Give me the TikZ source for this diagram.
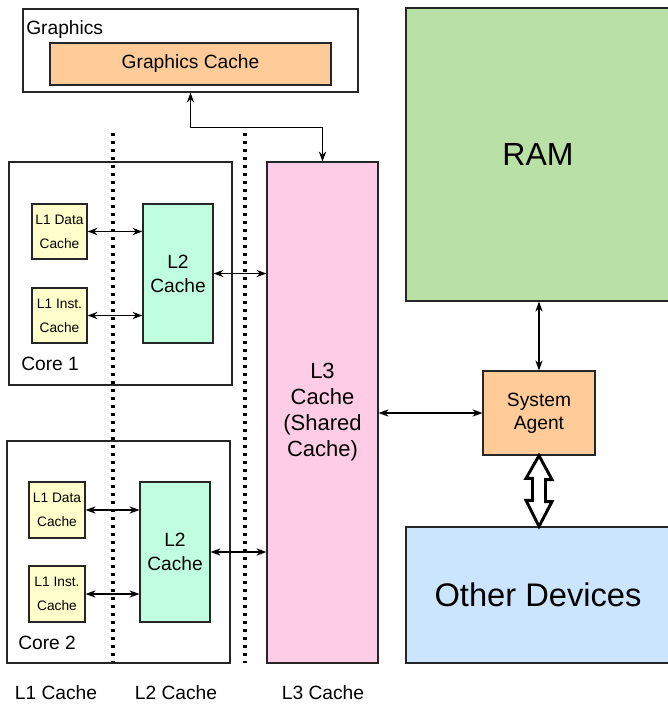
\documentclass[tikz,border=0pt]{standalone}
\usepackage{fontspec}
\setmainfont{Liberation Sans}
\usepackage{tikz}
\usetikzlibrary{arrows,arrows.meta,shapes,positioning}
\usepackage{color}
\definecolor{gfxorange}{HTML}{FFCC99}
\definecolor{l1yellow}{HTML}{FFFFCC}
\definecolor{l2mint}{HTML}{BFFFE0}
\definecolor{l3pink}{HTML}{FFCCE6}
\definecolor{ramgreen}{HTML}{B9E0A5}
\definecolor{devblue}{HTML}{CCE5FF}

\tikzset{
  box/.style={draw=black!85, line width=0.9pt, inner sep=0pt, align=center, font=\fontsize{14.4}{18}\selectfont},
  wh/.style 2 args={minimum width=#1*0.75pt, minimum height=#2*0.75pt},
  l1box/.style={box, fill=l1yellow, wh={55}{55}, font=\fontsize{10.3}{18}\selectfont},
  l2box/.style={box, fill=l2mint, wh={70}{139}},
  lbl/.style={inner sep=0pt, font=\fontsize{14.4}{18}\selectfont},
  conn/.style={{Stealth[length=7.5pt,width=5.5pt,inset=2.6pt]}-{Stealth[length=7.5pt,width=5.5pt,inset=2.6pt]}, line width=0.8pt},
  dotline/.style={line width=2.3pt, dash pattern=on 2.3pt off 3.7pt},
  bigarrow/.style={line width=2.2pt, fill=white, line join=miter}
}

\begin{document}
\begin{tikzpicture}[x=0.75pt, y=-0.75pt]
\useasboundingbox (0,0) rectangle (668,704);

\node[box, fill=white, wh={335}{83}] (gfx) at (190.5,50.5) {};
\node[box, fill=gfxorange, wh={281}{42}] (gcache) at (190.5,64) {Graphics Cache};
\node[lbl, anchor=west] (gfxlabel) at (26,30) {Graphics};

\draw[dotline] (113,133) -- (113,663);
\draw[dotline] (245,133) -- (245,663);

\node[box, wh={223}{223}] (core1) at (120.5,273.5) {};
\node[l1box] (d1) at (59.5,231.5) {L1 Data\\Cache};
\node[l1box] (i1) at (59.5,315.5) {L1 Inst.\\Cache};
\node[l2box] (l2a) at (178,273.5) {L2\\Cache};
\node[lbl, anchor=west] (core1label) at (21,364) {Core 1};

\node[box, wh={223}{222}] (core2) at (118.5,552) {};
\node[l1box, wh={56}{56}] (d2) at (57,510) {L1 Data\\Cache};
\node[l1box, wh={56}{56}] (i2) at (57,594) {L1 Inst.\\Cache};
\node[l2box, wh={70}{140}] (l2b) at (175,552) {L2\\Cache};
\node[lbl, anchor=west] (core2label) at (18,643) {Core 2};

\node[box, fill=l3pink, wh={111}{501}, font=\fontsize{16.5}{19.5}\selectfont] (l3) at (322.5,412.5) {L3\\Cache\\(Shared\\Cache)};
\node[box, fill=ramgreen, wh={264}{293}, font=\fontsize{24}{28}\selectfont] (ram) at (538,154.5) {RAM};
\node[box, fill=gfxorange, wh={112}{84}, font=\fontsize{14.4}{17.5}\selectfont] (sa) at (539,413) {System\\Agent};
\node[box, fill=devblue, wh={264}{136}, font=\fontsize{24.5}{28}\selectfont] (od) at (538,595) {Other Devices};

\node[lbl] (l1cap) at (56,693) {L1 Cache};
\node[lbl] (l2cap) at (176,693) {L2 Cache};
\node[lbl] (l3cap) at (323,693) {L3 Cache};

\draw[conn] (gfx.south) -- ++(0,35) -| (l3.north);
\draw[conn] (d1.east) -- (d1.east -| l2a.west);
\draw[conn] (i1.east) -- (i1.east -| l2a.west);
\draw[conn] (l2a.east) -- (l2a.east -| l3.west);
\draw[conn] (d2.east) -- (d2.east -| l2b.west);
\draw[conn] (i2.east) -- (i2.east -| l2b.west);
\draw[conn] (l2b.east) -- (l2b.east -| l3.west);
\draw[conn] (sa.west -| l3.east) -- (sa.west);
\draw[conn] (sa.north) -- (sa.north |- ram.south);
\draw[bigarrow] (sa.south) -- ++(13,24) -- ++(-6.5,0) -- ++(0,22) -- ++(6.5,0) -- (sa.south |- od.north) -- ++(-13,-26) -- ++(6.5,0) -- ++(0,-22) -- ++(-6.5,0) -- cycle;
\end{tikzpicture}
\end{document}
